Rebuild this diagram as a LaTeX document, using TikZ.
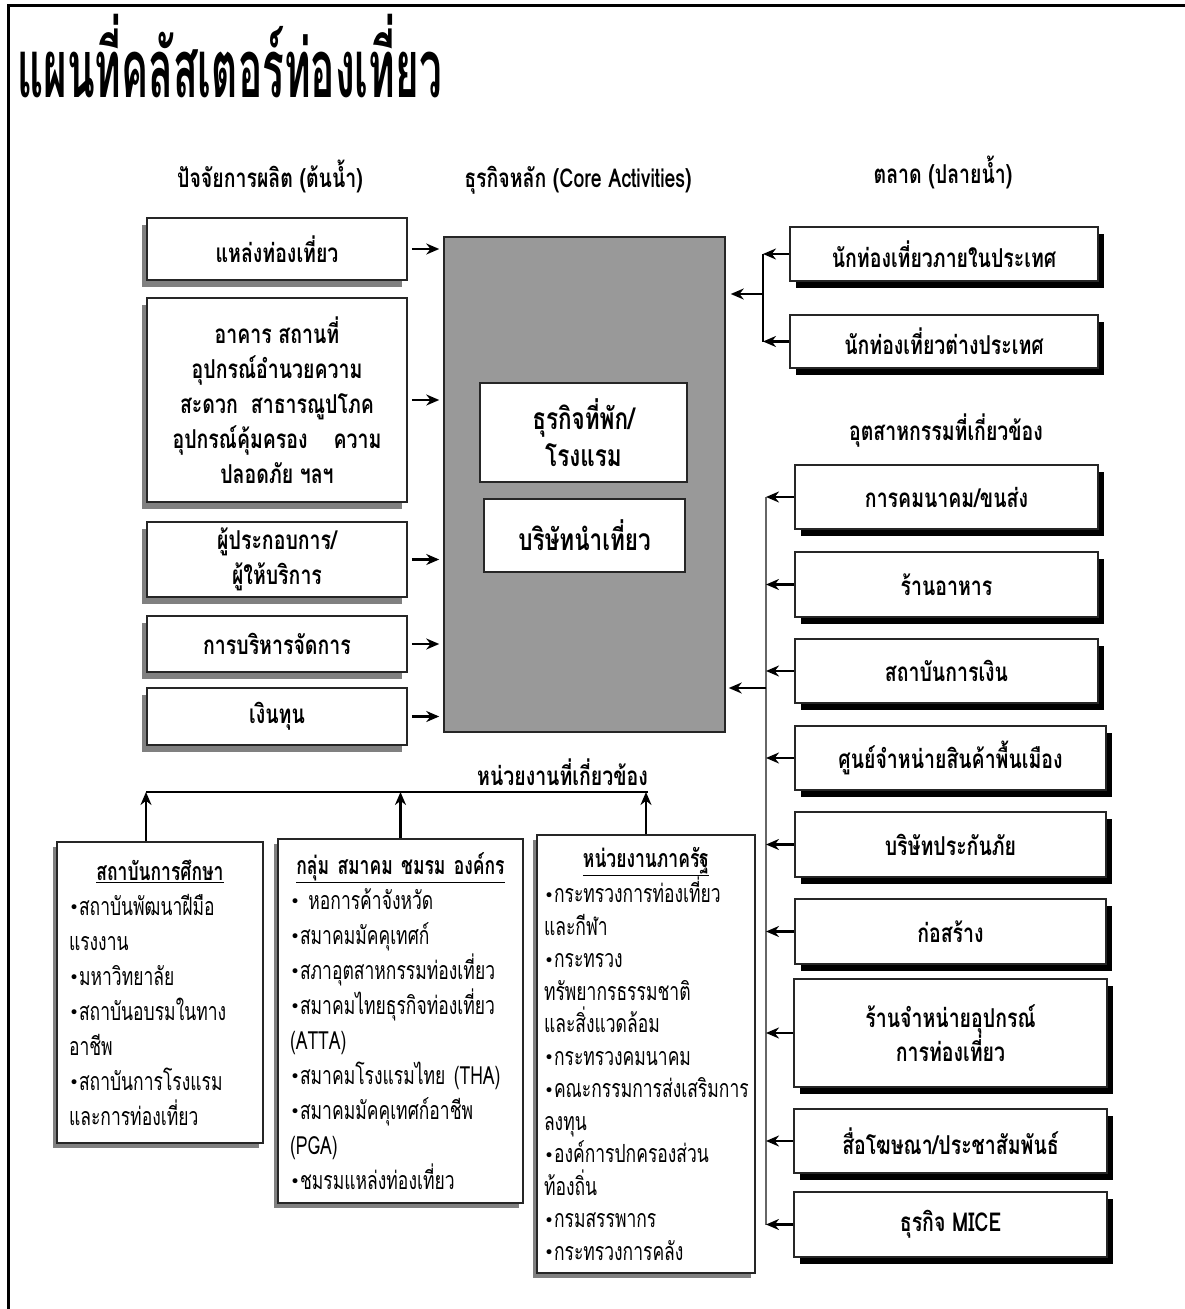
\documentclass[tikz,border=0pt]{standalone}
\usepackage{fontspec}
\setmainfont[Script=Thai,FakeStretch=0.75]{Loma}
\newfontfamily\titlefont[Script=Thai,FakeStretch=0.5]{Loma}
\newfontfamily\listfont[Script=Thai,FakeStretch=0.7]{Loma}
\newfontfamily\dotfont{DejaVu Sans}
\newcommand{\bul}{{\dotfont\fontsize{17}{17}\selectfont\raisebox{1.5pt}{•}}}
\usetikzlibrary{arrows.meta,shadows}

\begin{document}
\begin{tikzpicture}[x=1pt, y=-1pt, >={Stealth[length=13pt,width=11pt]},
    leftbox/.style={draw=black!85, line width=1.5pt, fill=white, align=center, inner sep=2pt,
        font=\bfseries\fontsize{26}{35}\selectfont,
        drop shadow={shadow xshift=-5pt, shadow yshift=-7pt, fill=black!50, opacity=1}},
    rightbox/.style={draw=black!85, line width=1.5pt, fill=white, align=center, inner sep=2pt,
        font=\bfseries\fontsize{26}{33}\selectfont,
        drop shadow={shadow xshift=6pt, shadow yshift=-7pt, fill=black, opacity=1}},
    corebox/.style={draw=black!85, line width=1.5pt, fill=white, align=center, inner sep=2pt,
        font=\bfseries\fontsize{30}{37}\selectfont},
    listbox/.style={draw=black!85, line width=1.5pt, fill=white, align=left, inner xsep=12pt,
        font=\listfont\fontsize{25}{35}\selectfont,
        drop shadow={shadow xshift=-4pt, shadow yshift=-5pt, fill=black!50, opacity=1}},
    head/.style={font=\bfseries\fontsize{26}{30}\selectfont, inner sep=0pt, anchor=base},
    arr/.style={->, line width=2.4pt}]

    \useasboundingbox (0,0) rectangle (1185,1309);
    \draw[line width=3.5pt] (8.5,1309) -- (8.5,5.5) -- (1185,5.5);

    \node[anchor=base west, inner sep=0pt, font=\titlefont\bfseries\fontsize{81}{86}\selectfont]
        (title) at (17,97) {แผนที่คลัสเตอร์ท่องเที่ยว};

    % column headings
    \node[head] (hsrc) at (270,187) {ปัจจัยการผลิต (ต้นน้ำ)};
    \node[head] (hcore) at (578,187) {ธุรกิจหลัก (Core Activities)};
    \node[head] (hmkt) at (943,183) {ตลาด (ปลายน้ำ)};
    \node[head] (hind) at (946,440) {อุตสาหกรรมที่เกี่ยวข้อง};
    \node[head, anchor=base east] (horg) at (648,785) {หน่วยงานที่เกี่ยวข้อง};

    % production factors
    \node[leftbox, minimum width=260pt, minimum height=62pt] (src1) at (277,249) {แหล่งท่องเที่ยว};
    \node[leftbox, minimum width=260pt, minimum height=204pt] (src2) at (277,400)
        {อาคาร สถานที่\\อุปกรณ์อำนวยความ\\สะดวก~~สาธารณูปโภค\\อุปกรณ์คุ้มครอง\quad ความ\\ปลอดภัย ฯลฯ};
    \node[leftbox, minimum width=260pt, minimum height=75pt] (src3) at (277,559.5) {ผู้ประกอบการ/\\ผู้ให้บริการ};
    \node[leftbox, minimum width=260pt, minimum height=56pt] (src4) at (277,644) {การบริหารจัดการ};
    \node[leftbox, minimum width=260pt, minimum height=57pt] (src5) at (277,716.5) {เงินทุน};

    % core activities
    \node[draw=black!85, line width=1.5pt, fill=black!40, minimum width=281pt, minimum height=495pt]
        (core) at (584.5,484.5) {};
    \node[corebox, minimum width=207pt, minimum height=99pt] (hotel) at (583.5,432.5) {ธุรกิจที่พัก/\\โรงแรม};
    \node[corebox, minimum width=201pt, minimum height=73pt] (tour) at (584.5,535.5) {บริษัทนำเที่ยว};

    \foreach \i in {1,...,5}
        \draw[arr, shorten <=4pt, shorten >=4pt] (src\i.east) -- (src\i.east -| core.west);

    % market
    \node[rightbox, minimum width=308pt, minimum height=54pt] (dom) at (944,254) {นักท่องเที่ยวภายในประเทศ};
    \node[rightbox, minimum width=308pt, minimum height=53pt] (intl) at (944,341.5) {นักท่องเที่ยวต่างประเทศ};
    \coordinate (mk) at (763,294);
    \draw[line width=1.8pt] (mk |- dom) -- (mk |- intl);
    \draw[arr] (dom.west) -- (dom.west -| mk);
    \draw[arr] (intl.west) -- (intl.west -| mk);
    \draw[arr, shorten >=5pt] (mk) -- (mk -| core.east);

    % related industries
    \node[rightbox, minimum width=303pt, minimum height=64pt] (ind1) at (946.5,497) {การคมนาคม/ขนส่ง};
    \node[rightbox, minimum width=303pt, minimum height=65pt] (ind2) at (946.5,584.5) {ร้านอาหาร};
    \node[rightbox, minimum width=303pt, minimum height=64pt] (ind3) at (946.5,671) {สถาบันการเงิน};
    \node[rightbox, minimum width=311pt, minimum height=64pt] (ind4) at (950.5,758) {ศูนย์จำหน่ายสินค้าพื้นเมือง};
    \node[rightbox, minimum width=311pt, minimum height=65pt] (ind5) at (950.5,844.5) {บริษัทประกันภัย};
    \node[rightbox, minimum width=311pt, minimum height=65pt] (ind6) at (950.5,931.5) {ก่อสร้าง};
    \node[rightbox, minimum width=313pt, minimum height=108pt] (ind7) at (950.5,1033) {ร้านจำหน่ายอุปกรณ์\\การท่องเที่ยว};
    \node[rightbox, minimum width=313pt, minimum height=64pt] (ind8) at (950.5,1141) {สื่อโฆษณา/ประชาสัมพันธ์};
    \node[rightbox, minimum width=313pt, minimum height=65pt] (ind9) at (950.5,1224.5) {ธุรกิจ MICE};
    \coordinate (ib) at (766,688);
    \draw[line width=1.6pt, black!60] (ib |- ind1) -- (ib |- ind9);
    \foreach \i in {1,...,9}
        \draw[arr] (ind\i.west) -- (ind\i.west -| ib);
    \draw[arr, shorten >=3pt] (ib) -- (ib -| core.east);

    % related agencies
    \node[listbox, text width=182pt, minimum height=301pt] (edu) at (160,992.5)
        {{\centering\bfseries\underline{สถาบันการศึกษา}\par}
        \bul สถาบันพัฒนาฝีมือ\\แรงงาน\\\bul มหาวิทยาลัย\\\bul สถาบันอบรมในทาง\\อาชีพ\\
        \bul สถาบันการโรงแรม\\และการท่องเที่ยว};
    \node[listbox, text width=221pt, minimum height=364pt] (assoc) at (400.5,1021)
        {{\centering\bfseries\underline{กลุ่ม สมาคม ชมรม องค์กร}\par}
        \bul\ หอการค้าจังหวัด\\\bul สมาคมมัคคุเทศก์\\\bul สภาอุตสาหกรรมท่องเที่ยว\\
        \bul สมาคมไทยธุรกิจท่องเที่ยว\\(ATTA)\\\bul สมาคมโรงแรมไทย~(THA)\\
        \bul สมาคมมัคคุเทศก์อาชีพ\\(PGA)\\\bul ชมรมแหล่งท่องเที่ยว};
    \node[listbox, inner xsep=7pt, text width=204pt, minimum height=438pt,
        font=\listfont\fontsize{25}{32.5}\selectfont] (gov) at (646,1054)
        {{\centering\bfseries\underline{หน่วยงานภาครัฐ}\par}
        \bul กระทรวงการท่องเที่ยว\\และกีฬา\\\bul กระทรวง\\ทรัพยากรธรรมชาติ\\และสิ่งแวดล้อม\\
        \bul กระทรวงคมนาคม\\\bul คณะกรรมการส่งเสริมการ\\ลงทุน\\\bul องค์การปกครองส่วน\\
        ท้องถิ่น\\\bul กรมสรรพากร\\\bul กระทรวงการคลัง};
    \coordinate (hl) at (146,792);
    \coordinate (hr) at (648,792);
    \draw[line width=1.8pt] (hl) -- (hr);
    \draw[arr] (edu.north -| hl) -- (hl);
    \draw[arr] (assoc.north) -- (assoc.north |- hl);
    \draw[arr] (gov.north) -- (gov.north |- hl);
\end{tikzpicture}
\end{document}
